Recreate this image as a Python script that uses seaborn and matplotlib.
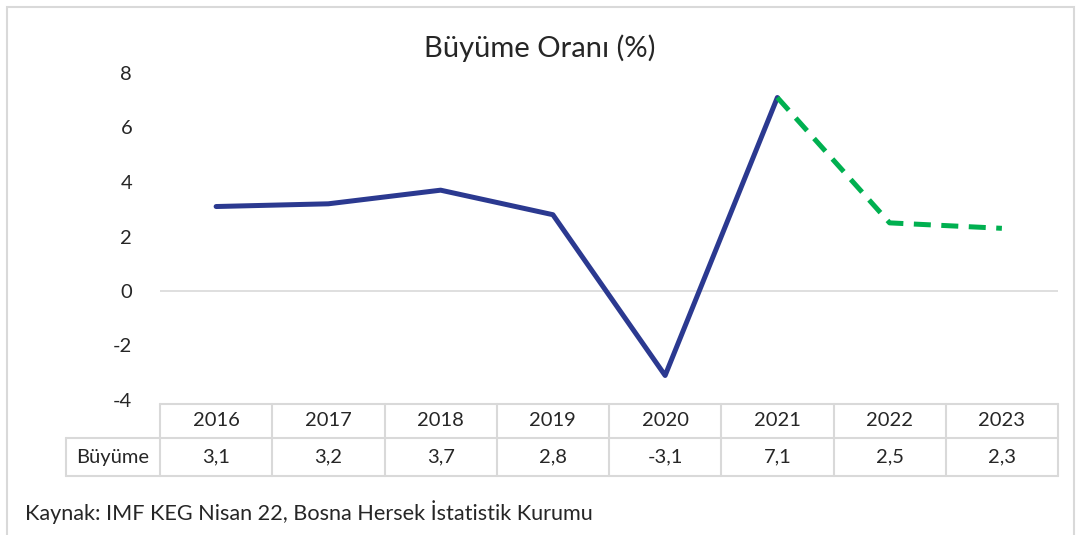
import numpy as np
import pandas as pd
import matplotlib.pyplot as plt
import seaborn as sns
from matplotlib.patches import Rectangle
from matplotlib.transforms import blended_transform_factory

# Data
years = ["2016", "2017", "2018", "2019", "2020", "2021", "2022", "2023"]
growth = [3.1, 3.2, 3.7, 2.8, -3.1, 7.1, 2.5, 2.3]
series = ["actual"] * 6 + ["forecast"] * 2
row_label = "Büyüme"

df = pd.DataFrame({"year": years, "growth": growth, "series": series})
df["pos"] = np.arange(len(years))
# forecast line starts at the last actual point
df_actual = df[df["series"] == "actual"]
df_forecast = df.iloc[5:]

sns.set_style("white")
plt.rcParams["font.family"] = ["Lato", "DejaVu Sans"]
txt_color = "#262626"
grid_color = "#D9D9D9"

W, H = 1088, 535
fig = plt.figure(figsize=(W / 100, H / 100), dpi=100)

# outer chart border
fig.patches.append(Rectangle((7 / W, -0.05), 1067 / W, 1.05 - 7 / H, transform=fig.transFigure,
                             fill=False, edgecolor=grid_color, linewidth=1.5))

ax = fig.add_axes([160 / W, 1 - 400 / H, 898 / W, 327 / H])

ax.axhline(0, color=grid_color, linewidth=1.2, zorder=1)
sns.lineplot(data=df_actual, x="pos", y="growth", color="#2B3990", linewidth=3.6,
             ax=ax, zorder=3)
sns.lineplot(data=df_forecast, x="pos", y="growth", color="#00B050", linewidth=3.6,
             linestyle=(0, (3.4, 2.1)), ax=ax, zorder=3)

n = len(years)
ax.set_xlim(-0.5, n - 0.5)
ax.set_ylim(-4, 8)
ax.set_yticks(np.arange(-4, 9, 2))
ax.set_yticklabels([str(v) for v in np.arange(-4, 9, 2)])
ax.set_xticks([])
ax.set_xlabel("")
ax.set_ylabel("")
ax.tick_params(axis="y", length=0, labelsize=14.5, pad=20, colors=txt_color)
for s in ax.spines.values():
    s.set_visible(False)

# data table below the plot (x in data units, y in axes fraction)
tr = blended_transform_factory(ax.transData, ax.transAxes)
px = 1 / 327
y_top, y_mid, y_bot = -4 * px, -38 * px, -76 * px
x_lab = -0.5 - 94 / 898 * n
lk = dict(color=grid_color, linewidth=1.5, transform=tr, clip_on=False)
ax.plot([-0.5, n - 0.5], [y_top, y_top], **lk)
ax.plot([x_lab, n - 0.5], [y_mid, y_mid], **lk)
ax.plot([x_lab, n - 0.5], [y_bot, y_bot], **lk)
ax.plot([x_lab, x_lab], [y_mid, y_bot], **lk)
for i in range(n + 1):
    ax.plot([i - 0.5, i - 0.5], [y_top, y_bot], **lk)
for i, (yr, v) in enumerate(zip(years, growth)):
    ax.text(i, (y_top + y_mid) / 2, yr, ha="center", va="center", transform=tr,
            fontsize=14.5, color=txt_color)
    ax.text(i, (y_mid + y_bot) / 2, f"{v:.1f}".replace(".", ","), ha="center",
            va="center", transform=tr, fontsize=14.5, color=txt_color)
ax.text((x_lab - 0.5) / 2, (y_mid + y_bot) / 2, row_label, ha="center", va="center",
        transform=tr, fontsize=14.5, color=txt_color)

fig.text(540 / W, 1 - 48 / H, "Büyüme Oranı (%)", ha="center", va="center",
         fontsize=21, color=txt_color)
fig.text(25 / W, 1 - 512 / H, "Kaynak: IMF KEG Nisan 22, Bosna Hersek İstatistik Kurumu",
         ha="left", va="center", fontsize=15.6, color=txt_color)

fig.savefig("out.png", dpi=100)
